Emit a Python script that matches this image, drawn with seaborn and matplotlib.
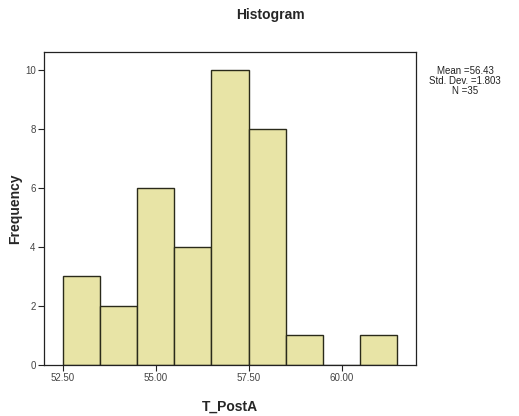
import matplotlib
matplotlib.use("Agg")
import matplotlib.pyplot as plt
import numpy as np
import seaborn as sns

# bin midpoints and counts
bin_centers = [53.0, 54.0, 55.0, 56.0, 57.0, 58.0, 59.0, 60.0, 61.0]
counts = [3, 2, 6, 4, 10, 8, 1, 0, 1]
bin_edges = [52.5, 53.5, 54.5, 55.5, 56.5, 57.5, 58.5, 59.5, 60.5, 61.5]
x_ticks = [52.5, 55.0, 57.5, 60.0]
y_ticks = [0, 2, 4, 6, 8, 10]
stats_text = "Mean =56.43\nStd. Dev. =1.803\nN =35"

sns.set_style("white")
plt.rcParams["font.family"] = ["Arial", "Liberation Sans", "DejaVu Sans"]

fig = plt.figure(figsize=(5.19, 4.16), dpi=100)
ax = fig.add_axes([0.0848, 0.1226, 0.7167, 0.7524])

sns.histplot(x=bin_centers, weights=counts, bins=bin_edges, ax=ax,
             color="#e8e4a6", alpha=1, edgecolor="#2a2a1a", linewidth=1.0)

ax.set_xlim(52.0, 62.0)
ax.set_ylim(0, 10.6)
ax.set_xticks(x_ticks)
ax.set_xticklabels([f"{t:.2f}" for t in x_ticks])
ax.set_yticks(y_ticks)
ax.tick_params(axis="both", direction="out", length=4, width=0.8,
               labelsize=7, labelcolor="#444444", color="#222222", pad=2)
ax.tick_params(axis="both", which="both", bottom=True, left=True)
for s in ax.spines.values():
    s.set_visible(True)
    s.set_color("#222222")
    s.set_linewidth(0.9)

ax.set_xlabel("T_PostA", fontsize=10, fontweight="bold")
ax.set_ylabel("Frequency", fontsize=10, fontweight="bold")
ax.xaxis.set_label_coords(0.5, -0.112)
ax.yaxis.set_label_coords(-0.06, 0.5)

fig.text(270 / 519, 1 - 15 / 416, "Histogram", ha="center", va="center",
         fontsize=10, fontweight="bold")
fig.text(465 / 519, 1 - 81 / 416, stats_text, ha="center", va="center",
         fontsize=7, linespacing=1.0, color="#222222")

fig.savefig("out.png", dpi=100)
